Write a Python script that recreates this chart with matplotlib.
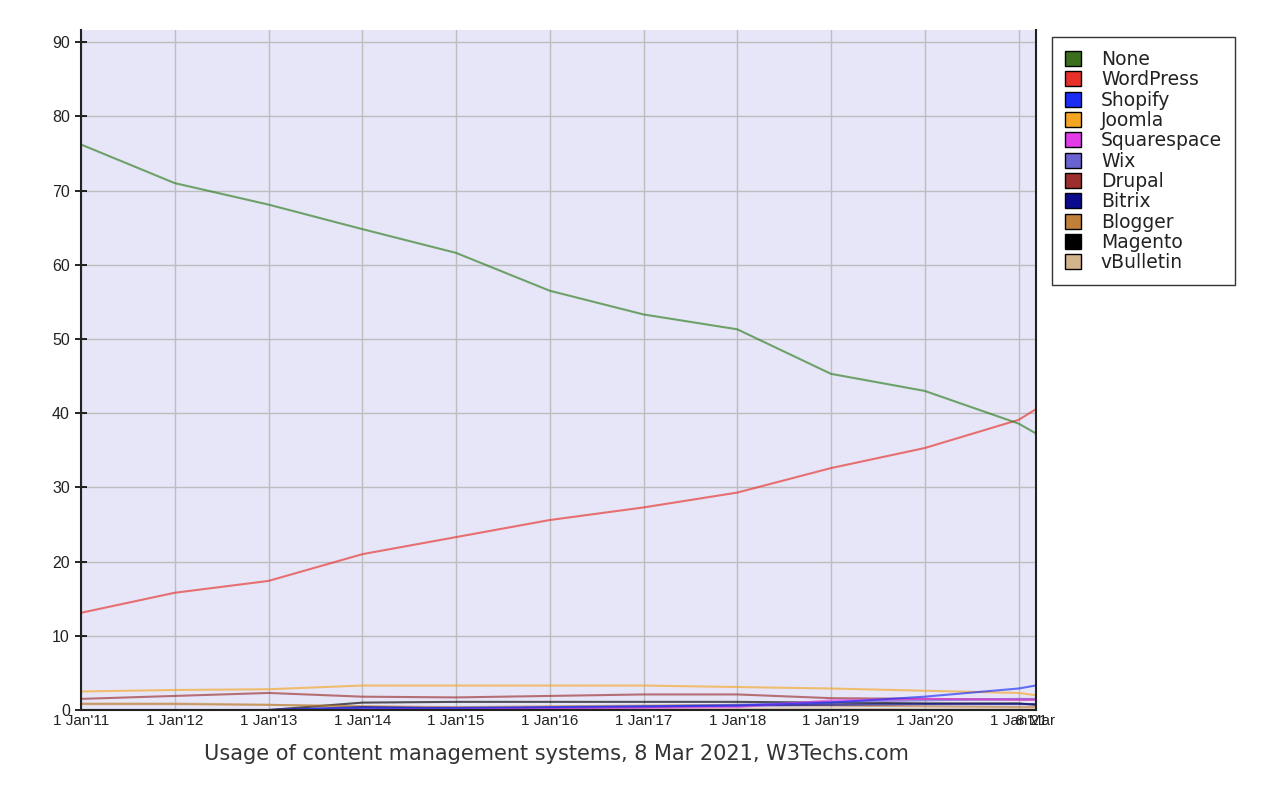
import datetime as dt
import matplotlib
matplotlib.use("Agg")
import matplotlib.pyplot as plt
import matplotlib.dates as mdates
from matplotlib.patches import Patch

# sample dates: 1 Jan of each year 2011-2021, plus 8 Mar 2021
dates = [dt.date(y, 1, 1) for y in range(2011, 2022)] + [dt.date(2021, 3, 8)]
tick_labels = ["1 Jan'11", "1 Jan'12", "1 Jan'13", "1 Jan'14", "1 Jan'15", "1 Jan'16",
               "1 Jan'17", "1 Jan'18", "1 Jan'19", "1 Jan'20", "1 Jan'21", "8 Mar"]

none_ = [76.2, 71.0, 68.1, 64.8, 61.6, 56.5, 53.3, 51.3, 45.3, 43.0, 38.6, 37.3]
wordpress = [13.1, 15.8, 17.4, 21.0, 23.3, 25.6, 27.3, 29.3, 32.6, 35.3, 39.1, 40.5]
shopify = [0.0, 0.0, 0.0, 0.3, 0.3, 0.4, 0.5, 0.6, 1.0, 1.8, 2.9, 3.3]
joomla = [2.5, 2.7, 2.8, 3.3, 3.3, 3.3, 3.3, 3.1, 2.9, 2.6, 2.3, 2.0]
squarespace = [0.0, 0.0, 0.0, 0.1, 0.1, 0.2, 0.3, 0.4, 1.3, 1.5, 1.4, 1.4]
wix = [0.0, 0.0, 0.0, 0.1, 0.2, 0.3, 0.5, 0.7, 1.1, 1.3, 1.5, 1.5]
drupal = [1.5, 1.9, 2.3, 1.8, 1.7, 1.9, 2.1, 2.1, 1.6, 1.5, 1.4, 1.4]
bitrix = [0.0, 0.0, 0.0, 0.4, 0.2, 0.3, 0.4, 0.6, 0.7, 0.8, 0.8, 0.8]
blogger = [0.8, 0.8, 0.7, 0.5, 0.4, 0.5, 0.6, 0.7, 0.6, 0.5, 0.4, 0.4]
magento = [0.0, 0.0, 0.0, 1.0, 1.1, 1.1, 1.1, 1.1, 1.0, 0.9, 0.9, 0.7]
vbulletin = [0.9, 0.9, 0.7, 0.5, 0.3, 0.3, 0.2, 0.2, 0.2, 0.1, 0.1, 0.1]

series = [
    ("None", none_, "#2e7d1e", "#3b6e1e"),
    ("WordPress", wordpress, "#e8302a", "#e8302a"),
    ("Shopify", shopify, "#1a2cf5", "#1a2cf5"),
    ("Joomla", joomla, "#f5a623", "#f5a623"),
    ("Squarespace", squarespace, "#e23ce8", "#e23ce8"),
    ("Wix", wix, "#6a62d0", "#6a62d0"),
    ("Drupal", drupal, "#9c2e2e", "#9c2e2e"),
    ("Bitrix", bitrix, "#0a0a8c", "#0a0a8c"),
    ("Blogger", blogger, "#c0803a", "#c0803a"),
    ("Magento", magento, "#000000", "#000000"),
    ("vBulletin", vbulletin, "#d2b48c", "#d2b48c"),
]

tick_font = ["Liberation Sans", "DejaVu Sans"]

fig = plt.figure(figsize=(12.8, 7.85), dpi=100)
ax = fig.add_axes([0.0633, 0.0955, 0.7457, 0.866])
ax.set_facecolor("#e6e6f8")

# draw the small ones first, big ones on top
for name, vals, col, _ in reversed(series):
    ax.plot(dates, vals, color=col, lw=1.5, alpha=0.65, solid_joinstyle="round")

ax.set_xlim(dates[0], dates[-1])
ax.set_ylim(0, 91.6)
ax.set_yticks(range(0, 100, 10))
ax.set_xticks([mdates.date2num(d) for d in dates])
ax.set_xticklabels(tick_labels, fontsize=11, family=tick_font, color="#222222")
for lbl in ax.get_yticklabels():
    lbl.set_fontsize(11.5)
    lbl.set_family(tick_font)
    lbl.set_color("#222222")

ax.grid(True, color="#bdbdbd", lw=1.0)
ax.set_axisbelow(True)
ax.tick_params(axis="y", direction="inout", length=8, width=1.2, pad=4)
ax.tick_params(axis="x", length=0, pad=3)
ax.spines["top"].set_visible(False)
for s in ["left", "bottom", "right"]:
    ax.spines[s].set_linewidth(1.5)
    ax.spines[s].set_color("#222222")

handles = [Patch(facecolor=leg, edgecolor="black", lw=1.0) for _, _, _, leg in series]
fig.legend(handles, [s[0] for s in series], loc="upper left",
           bbox_to_anchor=(0.822, 0.953), frameon=True, fancybox=False,
           edgecolor="black", handlelength=0.85, handleheight=0.85,
           labelspacing=0.07, handletextpad=1.05, borderpad=0.7, borderaxespad=0,
           prop={"family": "DejaVu Sans", "size": 13.5}, labelcolor="#222222")

fig.text(0.435, 0.039, "Usage of content management systems, 8 Mar 2021, W3Techs.com",
         ha="center", va="center", fontsize=15, color="#333333")

fig.savefig("out.png", dpi=100)
